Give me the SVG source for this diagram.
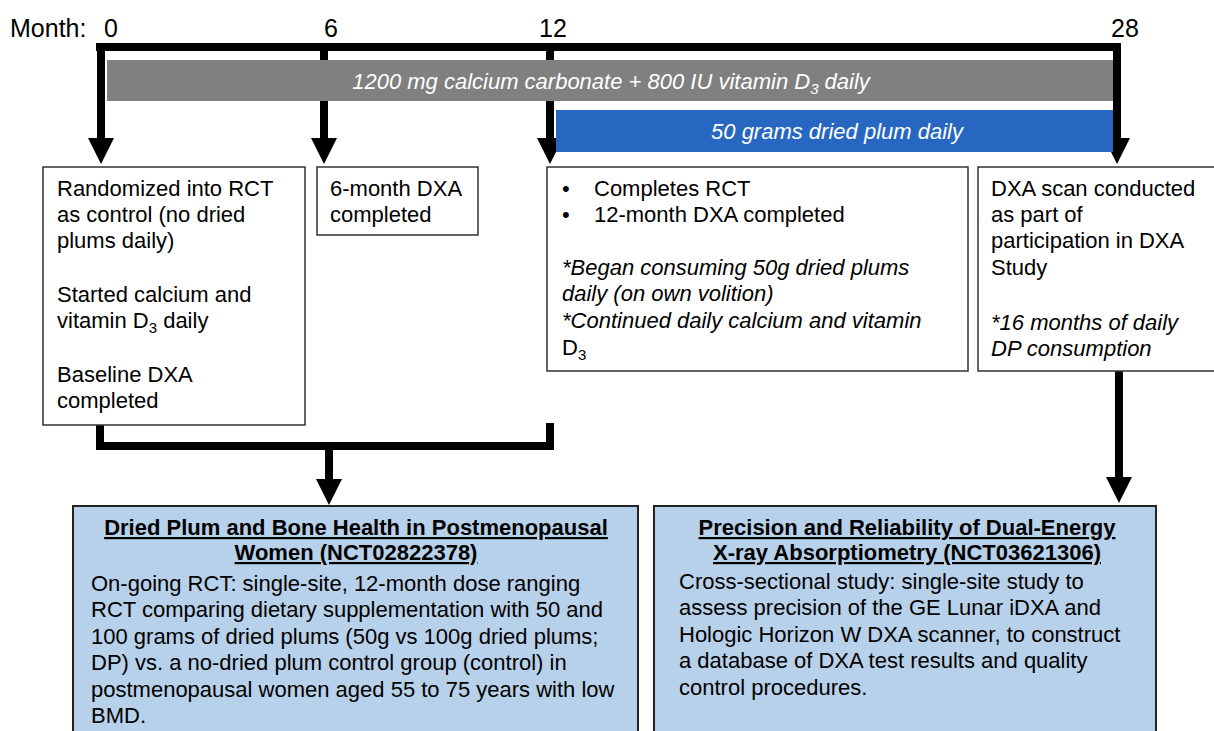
<svg xmlns="http://www.w3.org/2000/svg" width="1214" height="731" viewBox="0 0 1214 731">
<style>
text{font-family:"Liberation Sans",Arial,sans-serif;font-size:22px;fill:#000}
.m{font-size:25px}
.it{font-style:italic}
.w{fill:#fff}
.b{font-weight:bold;text-decoration:underline}
.box{fill:#fff;stroke:#333;stroke-width:1.5}
.bbox{fill:#b7d1ea;stroke:#222;stroke-width:2}
.ln{stroke:#000;stroke-width:8;fill:none}
.hd{fill:#000}
</style>
<rect width="1214" height="731" fill="#fff"/>
<g id="timeline">
<text class="m" x="10" y="37">Month:</text>
<text class="m" x="104" y="37">0</text>
<text class="m" x="324" y="37">6</text>
<text class="m" x="539" y="37">12</text>
<text class="m" x="1111" y="37">28</text>
</g>
<g id="connectors">
<path class="ln" d="M96 47H1121" stroke-width="10"/>
<path class="ln" d="M101 43V140M324 43V140M550 43V140M1117 43V140"/>
<polygon class="hd" points="88,138 114,138 101,164"/>
<polygon class="hd" points="311,138 337,138 324,164"/>
<polygon class="hd" points="537,138 563,138 550,164"/>
<polygon class="hd" points="1104,138 1130,138 1117,164"/>
<path class="ln" d="M100 424V446H550V423"/>
<path class="ln" d="M329 446V481"/>
<polygon class="hd" points="316,479 342,479 329,505"/>
<path class="ln" d="M1119 371V479"/>
<polygon class="hd" points="1106,477 1132,477 1119,503"/>
</g>
<g id="bar-calcium">
<rect x="107" y="60" width="1006" height="41" fill="#808080"/>
<text class="it w" x="611" y="89" text-anchor="middle">1200 mg calcium carbonate + 800 IU vitamin D<tspan font-size="15" dy="5">3</tspan><tspan dy="-5"> daily</tspan></text>
</g>
<g id="bar-plum">
<rect x="556" y="110" width="557" height="42" fill="#2767c1"/>
<text class="it w" x="837" y="139" text-anchor="middle">50 grams dried plum daily</text>
</g>
<g id="box-control">
<rect class="box" x="43" y="167" width="262" height="258"/>
<text x="57" y="196">Randomized into RCT</text>
<text x="57" y="222">as control (no dried</text>
<text x="57" y="248">plums daily)</text>
<text x="57" y="302">Started calcium and</text>
<text x="57" y="328">vitamin D<tspan font-size="15" dy="5">3</tspan><tspan dy="-5"> daily</tspan></text>
<text x="57" y="382">Baseline DXA</text>
<text x="57" y="408">completed</text>
</g>
<g id="box-6month">
<rect class="box" x="317" y="167" width="161" height="68"/>
<text x="330" y="196">6-month DXA</text>
<text x="330" y="222">completed</text>
</g>
<g id="box-12month">
<rect class="box" x="547" y="167" width="421" height="204"/>
<text x="562" y="196">•</text>
<text x="594" y="196">Completes RCT</text>
<text x="562" y="222">•</text>
<text x="594" y="222">12-month DXA completed</text>
<text class="it" x="562" y="275">*Began consuming 50g dried plums</text>
<text class="it" x="562" y="301">daily (on own volition)</text>
<text class="it" x="562" y="328">*Continued daily calcium and vitamin</text>
<text x="562" y="355">D<tspan font-size="15" dy="5">3</tspan></text>
</g>
<g id="box-28month">
<rect class="box" x="978" y="167" width="250" height="204"/>
<text x="991" y="196">DXA scan conducted</text>
<text x="991" y="222">as part of</text>
<text x="991" y="248">participation in DXA</text>
<text x="991" y="275">Study</text>
<text class="it" x="991" y="330">*16 months of daily</text>
<text class="it" x="991" y="356">DP consumption</text>
</g>
<g id="study-rct">
<rect class="bbox" x="73" y="506" width="565" height="240"/>
<text class="b" x="356" y="535" text-anchor="middle">Dried Plum and Bone Health in Postmenopausal</text>
<text class="b" x="356" y="560" text-anchor="middle">Women (NCT02822378)</text>
<text x="91" y="591">On-going RCT: single-site, 12-month dose ranging</text>
<text x="91" y="617">RCT comparing dietary supplementation with 50 and</text>
<text x="91" y="644">100 grams of dried plums (50g vs 100g dried plums;</text>
<text x="91" y="670">DP) vs. a no-dried plum control group (control) in</text>
<text x="91" y="697">postmenopausal women aged 55 to 75 years with low</text>
<text x="91" y="723">BMD.</text>
</g>
<g id="study-dxa">
<rect class="bbox" x="654" y="506" width="502" height="240"/>
<text class="b" x="907" y="535" text-anchor="middle">Precision and Reliability of Dual-Energy</text>
<text class="b" x="907" y="560" text-anchor="middle">X-ray Absorptiometry (NCT03621306)</text>
<text x="679" y="589">Cross-sectional study: single-site study to</text>
<text x="679" y="615">assess precision of the GE Lunar iDXA and</text>
<text x="679" y="642">Hologic Horizon W DXA scanner, to construct</text>
<text x="679" y="668">a database of DXA test results and quality</text>
<text x="679" y="695">control procedures.</text>
</g>
</svg>
